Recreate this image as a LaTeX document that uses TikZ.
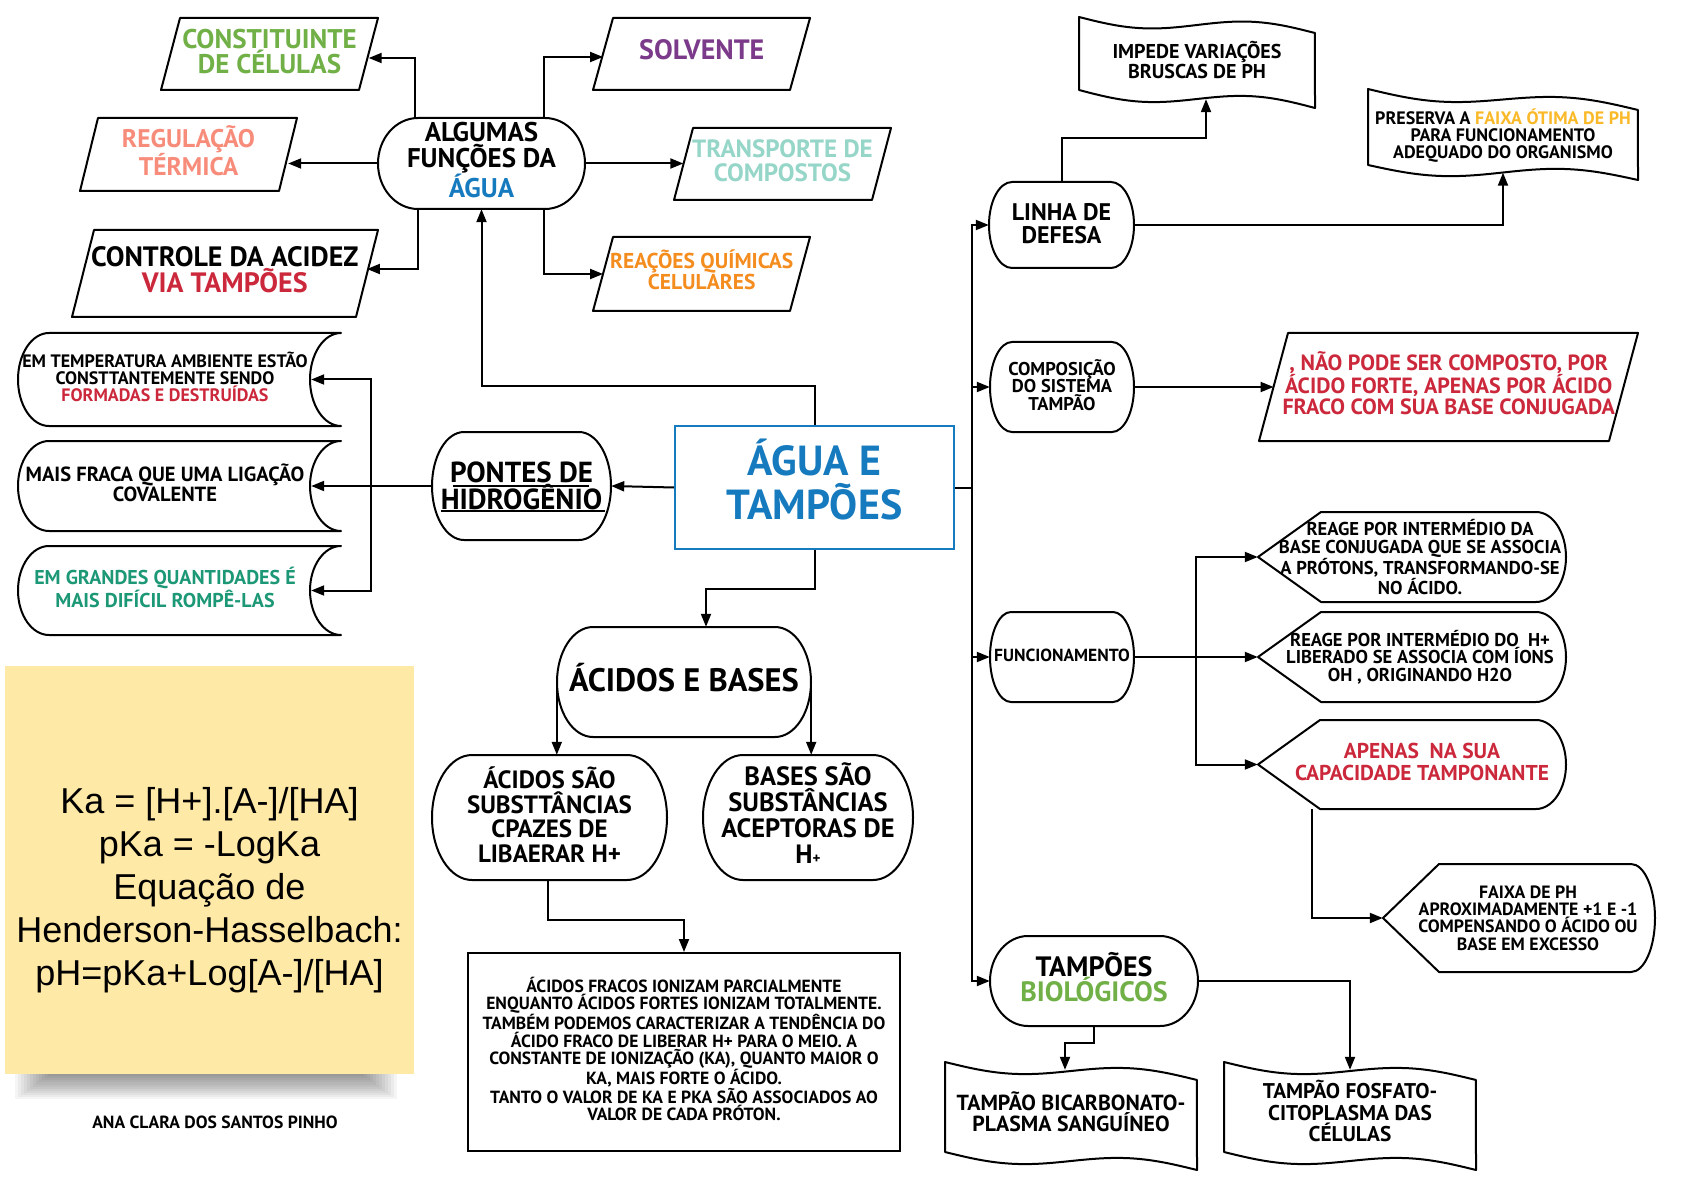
\documentclass[tikz,border=0pt]{standalone}
\usepackage{fontspec}
\setmainfont{PT Sans}
\newfontfamily\arialf{Liberation Sans}
\usetikzlibrary{arrows.meta}
\definecolor{cgreen}{RGB}{112,176,70}
\definecolor{csalmon}{RGB}{248,140,122}
\definecolor{cred}{RGB}{204,40,60}
\definecolor{cpurple}{RGB}{124,58,138}
\definecolor{cteal}{RGB}{150,214,200}
\definecolor{corange}{RGB}{244,140,30}
\definecolor{cblue}{RGB}{22,122,190}
\definecolor{cgold}{RGB}{250,185,40}
\definecolor{cseagreen}{RGB}{28,152,118}
\definecolor{cyellow}{RGB}{255,233,166}
\pgfdeclarelayer{bg}
\pgfdeclarelayer{conn}
\pgfdeclarelayer{shp}
\pgfsetlayers{bg,conn,shp,main}
\newcommand\fsz[2]{\fontsize{#1pt}{#2pt}\selectfont}
\newcommand\dn[1]{\rule[-#1pt]{0pt}{0pt}}
\tikzset{
  lbl/.style={inner sep=0pt, align=center},
  shapeline/.style={draw=black, line width=2pt, fill=white, line join=round},
  arr/.style={line width=2pt, -{Triangle[length=13pt,width=10pt]}},
  ln/.style={line width=2pt},
}
% parallelogram: TLx, Ty, BLx, By, width
\newcommand\mkpara[5]{\begin{pgfonlayer}{shp}\draw[shapeline] (#1,#2) -- ({#1+#5},#2) -- ({#3+#5},#4) -- (#3,#4) -- cycle;\end{pgfonlayer}}
% stadium: cx, cy, half w, half h, rx
\newcommand\mkstad[5]{\begin{pgfonlayer}{shp}\draw[shapeline] ({#1-#3+#5},{#2-#4}) -- ({#1+#3-#5},{#2-#4}) arc[start angle=90,end angle=-90,x radius=#5pt,y radius=#4pt] -- ({#1-#3+#5},{#2+#4}) arc[start angle=270,end angle=90,x radius=#5pt,y radius=#4pt] -- cycle;\end{pgfonlayer}}
% scroll (data storage): L, T, R, B, rx, ry
\newcommand\mkscroll[6]{\begin{pgfonlayer}{shp}\draw[shapeline] ({#1+#5},#2) -- (#3,#2) arc[start angle=90,end angle=270,x radius=#5pt,y radius=#6pt] -- ({#1+#5},#4) arc[start angle=270,end angle=90,x radius=#5pt,y radius=#6pt] -- cycle;\end{pgfonlayer}}
% display: L, T, B, cut, R, rx, ry
\newcommand\mkdisp[7]{\begin{pgfonlayer}{shp}\draw[shapeline] (#1,{(#2+#3)/2}) -- ({#1+#4},#2) -- ({#5-#6},#2) arc[start angle=90,end angle=-90,x radius=#6pt,y radius=#7pt] -- ({#1+#4},#3) -- cycle;\end{pgfonlayer}}
% wave: L, R, T0, T1, B0, B1, amplitude
\newcommand\mkwave[7]{\begin{pgfonlayer}{shp}\draw[shapeline] plot[domain=0:1,samples=50] ({#1+(#2-#1)*\x},{#3+(#4-#3)*\x+#7*sin(360*\x)}) -- plot[domain=1:0,samples=50] ({#1+(#2-#1)*\x},{#5+(#6-#5)*\x+#7*sin(360*\x)}) -- cycle;\end{pgfonlayer}}

\begin{document}
\begin{tikzpicture}[x=1pt,y=-1pt]
\useasboundingbox (0,0) rectangle (1682,1190);
\begin{pgfonlayer}{bg}
\fill[white] (0,0) rectangle (1682,1190);
\foreach \i in {1,...,12} {\fill[black,opacity=0.04] ({12+3*\i},1074) rectangle ({400-3*\i},{1074+2.1*(13-\i)});}
\end{pgfonlayer}

% ---------- top-left cluster ----------
\node[lbl,minimum width=198pt,minimum height=72pt,font={\fsz{27}{23}\bfseries},text=cgreen] (const) at (269.5,54) {CONSTITUINTE\\DE CÉLULAS\dn{6}};
\mkpara{180}{18}{161}{90}{198}
\node[lbl,minimum width=199pt,minimum height=73pt,font={\fsz{25.5}{23.5}\bfseries},text=csalmon] (reg) at (188.5,154.5) {REGULAÇÃO\\TÉRMICA\dn{8}};
\mkpara{98}{118}{80}{191}{199}
\node[lbl,minimum width=207pt,minimum height=91pt,font={\fsz{27}{26}\bfseries}] (alg) at (481.5,163.5) {ALGUMAS\\FUNÇÕES DA\\\textcolor{cblue}{ÁGUA}\dn{7}};
\mkstad{481.5}{163.5}{103.5}{45.5}{40}
\node[lbl,minimum width=284pt,minimum height=87pt,font={\fsz{28}{26}\bfseries}] (ctrl) at (224.75,273.5) {CONTROLE DA ACIDEZ\\\textcolor{cred}{VIA TAMPÕES}\dn{8}};
\mkpara{94}{230}{72}{317}{284}
\node[lbl,minimum width=197pt,minimum height=72pt,font={\fsz{28}{26}\bfseries},text=cpurple] (solv) at (701.75,54) {SOLVENTE\dn{8}};
\mkpara{613}{18}{593}{90}{197}
\node[lbl,minimum width=198pt,minimum height=72pt,font={\fsz{25}{24}\bfseries},text=cteal] (transp) at (782.5,164) {TRANSPORTE DE\\COMPOSTOS\dn{7}};
\mkpara{693}{128}{674}{200}{198}
\node[lbl,minimum width=197pt,minimum height=74pt,font={\fsz{21.5}{19}\bfseries},text=corange] (reac) at (701.75,274) {REAÇÕES QUÍMICAS\\CELULARES\dn{8}};
\mkpara{613}{237}{593}{311}{197}

% ---------- centre ----------
\node[draw=cblue,line width=2pt,fill=white,minimum width=279pt,minimum height=123pt,inner sep=0pt,align=center,font={\fsz{42}{44}\bfseries},text=cblue] (agua) at (814.5,487.5) {ÁGUA E\\TAMPÕES\dn{16}};

\node[lbl,minimum width=179pt,minimum height=108pt,font={\fsz{29}{25}\bfseries}] (pontes) at (521.5,486) {PONTES DE\\HIDROGÊNIO};
\mkstad{521.5}{486}{89.5}{54}{32}
\draw[line width=1.4pt] (453,486) -- (589,486) (441,511) -- (605,511);
\node[lbl,minimum width=292pt,minimum height=93pt,font={\fsz{18}{17}\bfseries}] (s1) at (165,379.5) {EM TEMPERATURA AMBIENTE ESTÃO\\CONSTTANTEMENTE SENDO\\\textcolor{cred}{FORMADAS E DESTRUÍDAS}\dn{6}};
\mkscroll{18}{333}{341}{426}{31}{46.5}
\node[lbl,minimum width=292pt,minimum height=90pt,font={\fsz{20.5}{20}\bfseries}] (s2) at (165,486) {MAIS FRACA QUE UMA LIGAÇÃO\\COVALENTE\dn{6}};
\mkscroll{18}{441}{341}{531}{31}{45}
\node[lbl,minimum width=292pt,minimum height=89pt,font={\fsz{20}{20}\bfseries},text=cseagreen] (s3) at (165,590.5) {EM GRANDES QUANTIDADES É\\MAIS DIFÍCIL ROMPÊ-LAS\dn{6}};
\mkscroll{18}{546}{341}{635}{31}{44.5}

% ---------- acids ----------
\node[lbl,minimum width=254pt,minimum height=110pt,font={\fsz{32.5}{30}\bfseries}] (acb) at (684,682) {ÁCIDOS E BASES\dn{10}};
\mkstad{684}{682}{127}{55}{36}
\node[lbl,minimum width=235pt,minimum height=125pt,font={\fsz{25}{24.5}\bfseries}] (acid) at (549.5,817.5) {ÁCIDOS SÃO\\SUBSTTÂNCIAS\\CPAZES DE\\LIBAERAR H+\dn{6}};
\mkstad{549.5}{817.5}{117.5}{62.5}{40}
\node[lbl,minimum width=210pt,minimum height=125pt,font={\fsz{26.5}{26}\bfseries}] (bases) at (808,817.5) {BASES SÃO\\SUBSTÂNCIAS\\ACEPTORAS DE\\H{\fsz{15}{15}+}\dn{8}};
\mkstad{808}{817.5}{105}{62.5}{40}
\node[draw,line width=2pt,fill=white,minimum width=432pt,minimum height=198pt,inner sep=0pt,align=center,font={\fsz{17.6}{17.3}\bfseries}] (tbox) at (684,1052) {ÁCIDOS FRACOS IONIZAM PARCIALMENTE\\ENQUANTO ÁCIDOS FORTES IONIZAM TOTALMENTE.\\TAMBÉM PODEMOS CARACTERIZAR A TENDÊNCIA DO\\ÁCIDO FRACO DE LIBERAR H+ PARA O MEIO. A\\CONSTANTE DE IONIZAÇÃO (KA), QUANTO MAIOR O\\KA, MAIS FORTE O ÁCIDO.\\TANTO O VALOR DE KA E PKA SÃO ASSOCIADOS AO\\VALOR DE CADA PRÓTON.\dn{6}};

% ---------- formulas ----------
\node[fill=cyellow,minimum width=409pt,minimum height=408pt,inner sep=0pt] (ybox) at (209.5,870) {};
\node[align=center,inner sep=0pt,font={\arialf\fsz{36}{43}}] (form) at (209.5,890) {Ka = [H+].[A-]/[HA]\\pKa = -LogKa\\Equação de\\Henderson-Hasselbach:\\pH=pKa+Log[A-]/[HA]};
\node[inner sep=0pt,font={\fsz{17.6}{16}\bfseries}] (author) at (215,1122) {ANA CLARA DOS SANTOS PINHO};

% ---------- right side ----------
\node[lbl,minimum width=145pt,minimum height=86pt,font={\fsz{24}{23}\bfseries}] (linha) at (1061.5,225) {LINHA DE\\DEFESA\dn{4}};
\mkstad{1061.5}{225}{72.5}{43}{23}
\node[lbl,minimum width=236pt,minimum height=74pt,font={\fsz{20}{20}\bfseries}] (imp) at (1197,62) {IMPEDE VARIAÇÕES\\BRUSCAS DE PH\dn{5}};
\mkwave{1079}{1315}{17}{33}{90}{108}{7}
\node[lbl,minimum width=270pt,minimum height=73pt,font={\fsz{18}{17}\bfseries}] (pres) at (1503,136) {PRESERVA A \textcolor{cgold}{FAIXA ÓTIMA DE PH}\\PARA FUNCIONAMENTO\\ADEQUADO DO ORGANISMO\dn{4}};
\mkwave{1368}{1638}{89}{110}{165}{180}{7}
\node[lbl,minimum width=144pt,minimum height=90pt,font={\fsz{18.5}{17.5}\bfseries}] (comp) at (1062,387) {COMPOSIÇÃO\\DO SISTEMA\\TAMPÃO\dn{4}};
\mkstad{1062}{387}{72}{45}{22}
\node[lbl,minimum width=350pt,minimum height=108pt,font={\fsz{22}{21.5}\bfseries},text=cred] (nao) at (1448.75,387) {, NÃO PODE SER COMPOSTO, POR\\ÁCIDO FORTE, APENAS POR ÁCIDO\\FRACO COM SUA BASE CONJUGADA\dn{8}};
\mkpara{1288}{333}{1259}{441}{350}
\node[lbl,minimum width=144pt,minimum height=90pt,font={\fsz{17.5}{17}\bfseries}] (func) at (1062,657) {FUNCIONAMENTO\dn{3}};
\mkstad{1062}{657}{72}{45}{21}
\node[lbl,minimum width=324pt,minimum height=90pt,font={\fsz{18.6}{17.7}\bfseries}] (d1) at (1420,557) {REAGE POR INTERMÉDIO DA\\BASE CONJUGADA QUE SE ASSOCIA\\A PRÓTONS, TRANSFORMANDO-SE\\NO ÁCIDO.};
\mkdisp{1258}{512}{602}{63}{1566}{30}{45}
\node[lbl,minimum width=324pt,minimum height=90pt,font={\fsz{18.6}{17.5}\bfseries}] (d2) at (1420,657) {REAGE POR INTERMÉDIO DO\enspace H+\\LIBERADO SE ASSOCIA COM ÍONS\\OH , ORIGINANDO H2O};
\mkdisp{1258}{612}{702}{63}{1566}{30}{45}
\node[lbl,minimum width=328pt,minimum height=89pt,font={\fsz{21.5}{22}\bfseries},text=cred] (d3) at (1422,764.5) {APENAS\enspace NA SUA\\CAPACIDADE TAMPONANTE\dn{6}};
\mkdisp{1258}{720}{809}{62}{1566}{30}{44.5}
\node[lbl,minimum width=290pt,minimum height=108pt,font={\fsz{17.8}{17.3}\bfseries}] (faixa) at (1528,918) {FAIXA DE PH\\APROXIMADAMENTE +1 E -1\\COMPENSANDO O ÁCIDO OU\\BASE EM EXCESSO};
\mkdisp{1383}{864}{972}{56}{1655}{24}{54}
\node[lbl,minimum width=208pt,minimum height=90pt,font={\fsz{28}{24}\bfseries}] (tbio) at (1094,981) {TAMPÕES\\\textcolor{cgreen}{BIOLÓGICOS}\dn{8}};
\mkstad{1094}{981}{104}{45}{38}
\node[lbl,minimum width=252pt,minimum height=91pt,font={\fsz{21.8}{21}\bfseries}] (bic) at (1071,1115.5) {TAMPÃO BICARBONATO-\\PLASMA SANGUÍNEO\dn{8}};
\mkwave{945}{1197}{1062}{1080}{1152}{1170}{7}
\node[lbl,minimum width=252pt,minimum height=91pt,font={\fsz{21.3}{21.5}\bfseries}] (fos) at (1350,1115.5) {TAMPÃO FOSFATO-\\CITOPLASMA DAS\\CÉLULAS\dn{9}};
\mkwave{1224}{1476}{1062}{1080}{1152}{1170}{7}

% ---------- connectors ----------
\begin{pgfonlayer}{conn}
\draw[arr] ([xshift=-66.5pt]alg.north) |- ([yshift=-4pt]const.east);
\draw[arr] (alg.west) -- (alg.west -| reg.east);
\draw[arr] ([xshift=-63.5pt]alg.south) |- ([yshift=4.5pt]ctrl.east);
\draw[arr] ([xshift=62.5pt]alg.north) |- ([yshift=-3pt]solv.west);
\draw[arr] (alg.east) -- (alg.east -| transp.west);
\draw[arr] ([xshift=62.5pt]alg.south) |- (reac.west);
\draw[arr] (agua.north) -- ++(0,-39) -| (alg.south);
\draw[arr] (agua.west) -- (pontes.east);
\draw[arr] (pontes.west) -- (s2.east);
\coordinate (lb) at (371,486);
\draw[arr] (lb) |- (s1.east);
\draw[arr] (lb) |- (s3.east);
\draw[arr] (agua.south) -- ++(0,39) -| ([xshift=22pt]acb.north);
\draw[arr] (acb.west) -- (acb.west |- acid.north);
\draw[arr] (acb.east) -- (acb.east |- bases.north);
\draw[arr] ([xshift=-1.5pt]acid.south) -- ++(0,40) -| (tbox.north);
\coordinate (rb) at (972,487.5);
\draw[ln] (agua.east) -- (rb);
\draw[arr] (rb) |- (linha.west);
\draw[arr] (rb) |- (comp.west);
\draw[arr] (rb) |- (func.west);
\draw[arr] (rb) |- (tbio.west);
\draw[arr] (linha.north) -- ++(0,-44) -| ([xshift=9pt]imp.south);
\draw[arr] (linha.east) -| (pres.south);
\draw[arr] (comp.east) -- (nao.west);
\coordinate (fb) at (1196,657);
\draw[arr] (func.east) -- (d2.west);
\draw[arr] (fb) |- (d1.west);
\draw[arr] (fb) |- (d3.west);
\draw[arr] ([xshift=-110pt]d3.south) |- (faixa.west);
\draw[arr] (tbio.south) -- ++(0,17) -| ([xshift=-6pt]bic.north);
\draw[arr] (tbio.east) -| (fos.north);
\end{pgfonlayer}
\end{tikzpicture}
\end{document}
